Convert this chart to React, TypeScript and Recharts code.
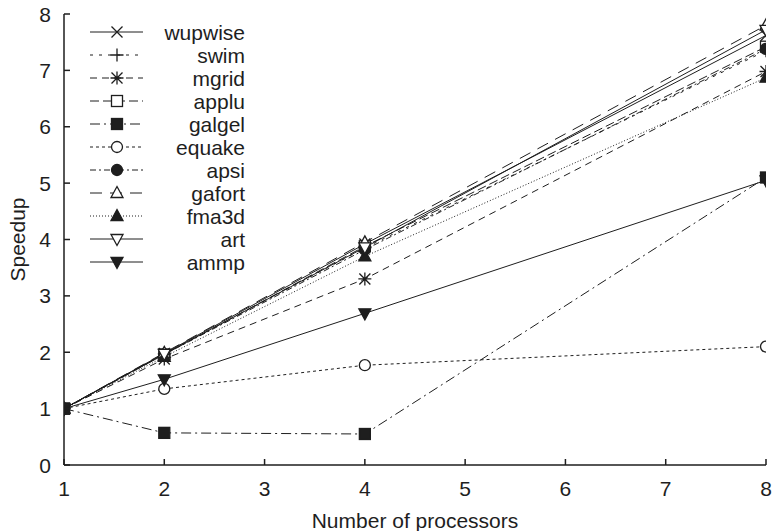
import React from 'react';
import { LineChart, Line, XAxis, YAxis, Legend } from 'recharts';

const processors = [1, 2, 4, 8];
const xTicks = [1, 2, 3, 4, 5, 6, 7, 8];
const yTicks = [0, 1, 2, 3, 4, 5, 6, 7, 8];

const wupwise = [1, 1.98, 3.92, 7.62];
const swim = [1, 1.97, 3.85, 7.35];
const mgrid = [1, 1.88, 3.3, 6.98];
const applu = [1, 1.96, 3.88, 7.42];
const galgel = [1, 0.57, 0.55, 5.1];
const equake = [1, 1.35, 1.77, 2.1];
const apsi = [1, 1.96, 3.82, 7.38];
const gafort = [1, 1.99, 3.95, 7.8];
const fma3d = [1, 1.92, 3.7, 6.87];
const art = [1, 1.97, 3.86, 7.72];
const ammp = [1, 1.52, 2.69, 5.05];

const seriesNames = ['wupwise', 'swim', 'mgrid', 'applu', 'galgel', 'equake', 'apsi', 'gafort', 'fma3d', 'art', 'ammp'];
const seriesValues = [wupwise, swim, mgrid, applu, galgel, equake, apsi, gafort, fma3d, art, ammp];
const seriesShapes = ['x', 'plus', 'star', 'square', 'squareF', 'circle', 'circleF', 'tri', 'triF', 'triDown', 'triDownF'];
const seriesDash = ['', '3 6', '7 5', '9 4', '10 4 2 4', '3 3', '6 3 2 3', '12 8', '1 2', '', ''];

const data = processors.map((p, i) => {
  const row: Record<string, number> = { p };
  seriesNames.forEach((n, k) => {
    row[n] = seriesValues[k][i];
  });
  return row;
});

const INK = '#1e1e1e';
const FONT = '"Liberation Sans", Arial, Helvetica, sans-serif';
const FS = 21;

function Marker({ shape, cx, cy }: { shape: string; cx: number; cy: number }) {
  const s = 5.5;
  const sw = 1.3;
  switch (shape) {
    case 'x':
      return <path d={`M${cx - s},${cy - s}L${cx + s},${cy + s}M${cx - s},${cy + s}L${cx + s},${cy - s}`} stroke={INK} strokeWidth={sw} fill="none" />;
    case 'plus':
      return <path d={`M${cx - s - 1},${cy}L${cx + s + 1},${cy}M${cx},${cy - s - 1}L${cx},${cy + s + 1}`} stroke={INK} strokeWidth={sw} fill="none" />;
    case 'star':
      return (
        <path
          d={`M${cx - s},${cy - s}L${cx + s},${cy + s}M${cx - s},${cy + s}L${cx + s},${cy - s}M${cx - s - 1},${cy}L${cx + s + 1},${cy}M${cx},${cy - s - 1}L${cx},${cy + s + 1}`}
          stroke={INK}
          strokeWidth={sw}
          fill="none"
        />
      );
    case 'square':
      return <rect x={cx - s} y={cy - s} width={2 * s} height={2 * s} stroke={INK} strokeWidth={sw} fill="#fff" />;
    case 'squareF':
      return <rect x={cx - s} y={cy - s} width={2 * s} height={2 * s} stroke={INK} strokeWidth={sw} fill={INK} />;
    case 'circle':
      return <circle cx={cx} cy={cy} r={s} stroke={INK} strokeWidth={sw} fill="#fff" />;
    case 'circleF':
      return <circle cx={cx} cy={cy} r={s} stroke={INK} strokeWidth={sw} fill={INK} />;
    case 'tri':
      return <path d={`M${cx},${cy - s - 1}L${cx + s + 0.5},${cy + s - 1}L${cx - s - 0.5},${cy + s - 1}Z`} stroke={INK} strokeWidth={sw} fill="#fff" />;
    case 'triF':
      return <path d={`M${cx},${cy - s - 1}L${cx + s + 0.5},${cy + s - 1}L${cx - s - 0.5},${cy + s - 1}Z`} stroke={INK} strokeWidth={sw} fill={INK} />;
    case 'triDown':
      return <path d={`M${cx},${cy + s + 1}L${cx + s + 0.5},${cy - s + 1}L${cx - s - 0.5},${cy - s + 1}Z`} stroke={INK} strokeWidth={sw} fill="#fff" />;
    case 'triDownF':
      return <path d={`M${cx},${cy + s + 1}L${cx + s + 0.5},${cy - s + 1}L${cx - s - 0.5},${cy - s + 1}Z`} stroke={INK} strokeWidth={sw} fill={INK} />;
    default:
      return null;
  }
}

const TICK_LEN = 6;

function BottomTick(props: any) {
  const { x, y, payload } = props;
  return (
    <g>
      <line x1={x} y1={y} x2={x} y2={y - TICK_LEN} stroke={INK} strokeWidth={1.5} />
      <text x={x} y={y + 31} textAnchor="middle" fontSize={FS} fontFamily={FONT} fill={INK}>
        {payload.value}
      </text>
    </g>
  );
}

function TopTick(props: any) {
  const { x, y } = props;
  return <line x1={x} y1={y} x2={x} y2={y + TICK_LEN} stroke={INK} strokeWidth={1.5} />;
}

function LeftTick(props: any) {
  const { x, y, payload } = props;
  return (
    <g>
      <line x1={x} y1={y} x2={x + TICK_LEN} y2={y} stroke={INK} strokeWidth={1.5} />
      <text x={x - 13} y={y + 7.5} textAnchor="end" fontSize={FS} fontFamily={FONT} fill={INK}>
        {payload.value}
      </text>
    </g>
  );
}

function RightTick(props: any) {
  const { x, y } = props;
  return <line x1={x} y1={y} x2={x - TICK_LEN} y2={y} stroke={INK} strokeWidth={1.5} />;
}

const ROW_H = 23;

function LegendBox() {
  return (
    <svg width={180} height={ROW_H * seriesNames.length + 10} style={{ display: 'block', overflow: 'visible' }}>
      {seriesNames.map((n, i) => {
        const cy = 12 + i * ROW_H;
        return (
          <g key={n}>
            <line x1={10} y1={cy} x2={63} y2={cy} stroke={INK} strokeWidth={1} strokeDasharray={seriesDash[i] || undefined} />
            <Marker shape={seriesShapes[i]} cx={37} cy={cy} />
            <text x={165} y={cy + 7.5} textAnchor="end" fontSize={FS} fontFamily={FONT} fill={INK}>
              {n}
            </text>
          </g>
        );
      })}
    </svg>
  );
}

export default function App() {
  return (
    <div style={{ position: 'absolute', left: 0, top: 0, background: '#fff' }}>
      <LineChart width={775} height={531} data={data} margin={{ top: 14, right: 9, bottom: 0, left: 0 }}>
        <XAxis
          dataKey="p"
          type="number"
          domain={[1, 8]}
          ticks={xTicks}
          interval={0}
          height={66}
          tickSize={0}
          tickMargin={0}
          tickLine={false}
          tick={<BottomTick />}
          axisLine={{ stroke: INK, strokeWidth: 1.5 }}
          allowDataOverflow
          label={{
            content: (props: any) => {
              const vb = props.viewBox;
              return (
                <text x={vb.x + vb.width / 2} y={vb.y + vb.height - 3} textAnchor="middle" fontSize={FS} fontFamily={FONT} fill={INK}>
                  Number of processors
                </text>
              );
            },
          }}
        />
        <XAxis
          xAxisId="t"
          orientation="top"
          type="number"
          domain={[1, 8]}
          ticks={xTicks}
          interval={0}
          height={0}
          tickSize={0}
          tickMargin={0}
          tickLine={false}
          tick={<TopTick />}
          axisLine={{ stroke: INK, strokeWidth: 1.5 }}
          allowDataOverflow
        />
        <YAxis
          type="number"
          domain={[0, 8]}
          ticks={yTicks}
          interval={0}
          width={64}
          tickSize={0}
          tickMargin={0}
          tickLine={false}
          tick={<LeftTick />}
          axisLine={{ stroke: INK, strokeWidth: 1.5 }}
          allowDataOverflow
          label={{
            content: (props: any) => {
              const vb = props.viewBox;
              const x = 25;
              const y = vb.y + vb.height / 2;
              return (
                <text x={x} y={y} transform={`rotate(-90, ${x}, ${y})`} textAnchor="middle" fontSize={FS} fontFamily={FONT} fill={INK}>
                  Speedup
                </text>
              );
            },
          }}
        />
        <YAxis
          yAxisId="r"
          orientation="right"
          type="number"
          domain={[0, 8]}
          ticks={yTicks}
          interval={0}
          width={0}
          tickSize={0}
          tickMargin={0}
          tickLine={false}
          tick={<RightTick />}
          axisLine={{ stroke: INK, strokeWidth: 1.5 }}
          allowDataOverflow
        />
        <Legend
          layout="vertical"
          align="center"
          verticalAlign="middle"
          wrapperStyle={{ position: 'absolute', left: 80, top: 20, width: 180, height: 270 }}
          content={() => <LegendBox />}
        />
        {seriesNames.map((n, i) => (
          <Line
            key={n}
            dataKey={n}
            type="linear"
            stroke={INK}
            strokeWidth={1}
            strokeDasharray={seriesDash[i] || undefined}
            isAnimationActive={false}
            dot={(props: any) => <Marker key={`${n}-${props.index}`} shape={seriesShapes[i]} cx={props.cx} cy={props.cy} />}
            activeDot={false}
          />
        ))}
      </LineChart>
    </div>
  );
}
